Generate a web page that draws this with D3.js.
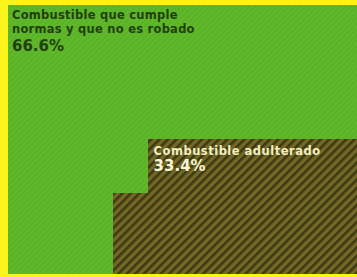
<!DOCTYPE html>
<html>
<head>
<meta charset="utf-8">
<script src="https://cdn.jsdelivr.net/npm/d3@7"></script>
<style>
  html, body { margin: 0; padding: 0; background: #fbf31c; }
  svg { display: block; }
</style>
</head>
<body>
<script>
// data
const categories = ["Combustible que cumple normas y que no es robado", "Combustible adulterado"];
const labelLines = [["Combustible que cumple", "normas y que no es robado"], ["Combustible adulterado"]];
const values = [66.6, 33.4];
const valueLabels = ["66.6%", "33.4%"];

const width = 357, height = 277;
const margin = {top: 5, right: 0, bottom: 4, left: 8};
const cols = 10, rows = 10;

const svg = d3.select("body").append("svg")
    .attr("width", width)
    .attr("height", height);

const defs = svg.append("defs");

// green print texture
const pg = defs.append("pattern")
    .attr("id", "greenTex")
    .attr("patternUnits", "userSpaceOnUse")
    .attr("width", 4).attr("height", 4)
    .attr("patternTransform", "rotate(45)");
pg.append("rect").attr("width", 4).attr("height", 4).attr("fill", "#5fb92a");
pg.append("rect").attr("width", 1.5).attr("height", 4).attr("fill", "#56aa25").attr("opacity", 0.6);

// hatched olive texture
const pd = defs.append("pattern")
    .attr("id", "darkTex")
    .attr("patternUnits", "userSpaceOnUse")
    .attr("width", 6).attr("height", 6)
    .attr("patternTransform", "rotate(45)");
pd.append("rect").attr("width", 6).attr("height", 6).attr("fill", "#736925");
pd.append("rect").attr("width", 2.6).attr("height", 6).attr("fill", "#3d3914");

const x = d3.scaleBand()
    .domain(d3.range(cols))
    .range([margin.left, width - margin.right])
    .padding(0);
const y = d3.scaleBand()
    .domain(d3.range(rows))
    .range([margin.top, height - margin.bottom])
    .padding(0);

// dark units fill the lower half from the right, bottom up in each column
const darkCount = Math.round(values[1]);
const order = [];
for (let c = cols - 1; c >= 0; c--) {
    for (let r = rows - 1; r >= rows / 2; r--) order.push(c + "," + r);
}
const darkSet = new Set(order.slice(0, darkCount));

const cells = [];
for (let r = 0; r < rows; r++) {
    for (let c = 0; c < cols; c++) {
        cells.push({c, r, cat: darkSet.has(c + "," + r) ? 1 : 0});
    }
}

svg.append("g").selectAll("rect")
    .data(cells)
    .join("rect")
    .attr("x", d => x(d.c))
    .attr("y", d => y(d.r))
    .attr("width", x.bandwidth() + 0.5)
    .attr("height", y.bandwidth() + 0.5)
    .attr("fill", d => d.cat ? "url(#darkTex)" : "url(#greenTex)")
    .attr("shape-rendering", "crispEdges");

// labels
const font = "'DejaVu Sans', sans-serif";
const lab0 = svg.append("g").attr("transform", `translate(${x(0) + 4},0)`);
lab0.selectAll("text.l")
    .data(labelLines[0])
    .join("text")
    .attr("class", "l")
    .attr("y", (d, i) => 19 + i * 14)
    .attr("font-family", font)
    .attr("font-weight", 700)
    .attr("font-size", 11.5)
    .attr("letter-spacing", 0.25)
    .attr("fill", "#22400f")
    .text(d => d);
lab0.append("text")
    .attr("y", 50.5)
    .attr("font-family", font)
    .attr("font-weight", 700)
    .attr("font-size", 15)
    .attr("fill", "#22400f")
    .text(valueLabels[0]);

const firstDark = cells.filter(d => d.cat).sort((a, b) => a.r - b.r || a.c - b.c)[0];
const lab1 = svg.append("g").attr("transform", `translate(${x(firstDark.c) + 6},${y(firstDark.r)})`);
lab1.append("text")
    .attr("y", 16)
    .attr("font-family", font)
    .attr("font-weight", 700)
    .attr("font-size", 11.5)
    .attr("letter-spacing", 0.5)
    .attr("fill", "#f1efc0")
    .text(labelLines[1][0]);
lab1.append("text")
    .attr("y", 31.5)
    .attr("font-family", font)
    .attr("font-weight", 700)
    .attr("font-size", 15)
    .attr("fill", "#f6f4d2")
    .text(valueLabels[1]);
</script>
</body>
</html>
